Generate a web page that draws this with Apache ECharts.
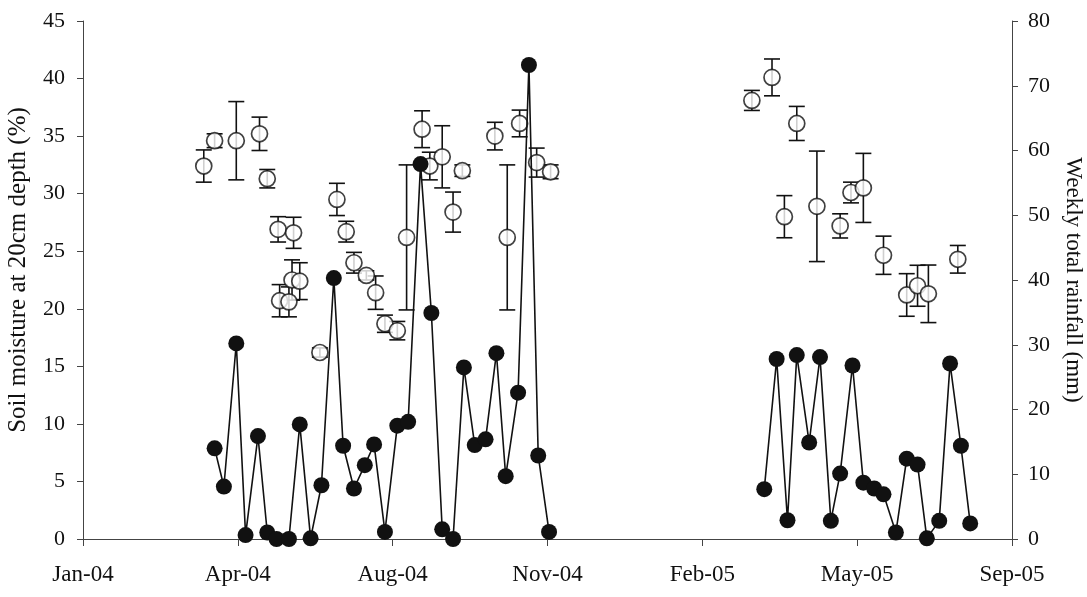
<!DOCTYPE html>
<html>
<head>
<meta charset="utf-8">
<script src="https://cdn.jsdelivr.net/npm/echarts@6/dist/echarts.min.js"></script>
<style>
html,body{margin:0;padding:0;background:#fff;}
#chart{width:1087px;height:597px;}
</style>
</head>
<body>
<div id="chart"></div>
<script>
// ---- data ----
const soilDates = [
  '2004-04-01','2004-04-08','2004-04-22','2004-05-07','2004-05-12','2004-05-19','2004-05-20',
  '2004-05-26','2004-05-28','2004-05-29','2004-06-02','2004-06-15','2004-06-26','2004-07-02',
  '2004-07-07','2004-07-15','2004-07-21','2004-07-27','2004-08-04','2004-08-10','2004-08-20',
  '2004-08-25','2004-09-02','2004-09-09','2004-09-15','2004-10-06','2004-10-14','2004-10-22',
  '2004-11-02','2004-11-11',
  '2005-03-21','2005-04-03','2005-04-11','2005-04-19','2005-05-02','2005-05-17','2005-05-24',
  '2005-06-01','2005-06-14','2005-06-29','2005-07-06','2005-07-13','2005-08-01'
];
const soilMoisture = [
  32.4, 34.6, 34.6, 35.2, 31.3, 26.9, 20.7,
  20.6, 22.5, 26.6, 22.4, 16.2, 29.5, 26.7,
  24.0, 22.9, 21.4, 18.7, 18.1, 26.2, 35.6,
  32.4, 33.2, 28.4, 32.0, 35.0, 26.2, 36.1,
  32.7, 31.9,
  38.1, 40.1, 28.0, 36.1, 28.9, 27.2, 30.1,
  30.5, 24.65, 21.2, 22.0, 21.3, 24.3
];
const soilError = [
  1.4, 0.6, 3.4, 1.45, 0.8, 1.1, 1.4,
  1.3, 1.75, 1.35, 1.6, 0.4, 1.4, 0.9,
  0.9, 0.4, 1.45, 0.75, 0.8, 6.3, 1.6,
  1.2, 2.7, 1.74, 0.5, 1.2, 6.3, 1.16,
  1.26, 0.6,
  0.87, 1.6, 1.83, 1.48, 4.8, 1.05, 0.9,
  3.0, 1.66, 1.85, 1.78, 2.5, 1.2
];
const rainDates = [
  '2004-04-08','2004-04-14','2004-04-22','2004-04-28','2004-05-06','2004-05-12','2004-05-18',
  '2004-05-26','2004-06-02','2004-06-09','2004-06-16','2004-06-24','2004-06-30','2004-07-07',
  '2004-07-14','2004-07-20','2004-07-27','2004-08-04','2004-08-11','2004-08-19','2004-08-26',
  '2004-09-02','2004-09-09','2004-09-16','2004-09-23','2004-09-30','2004-10-07','2004-10-13',
  '2004-10-21','2004-10-28','2004-11-03','2004-11-10',
  '2005-03-29','2005-04-06','2005-04-13','2005-04-19','2005-04-27','2005-05-04','2005-05-11',
  '2005-05-17','2005-05-25','2005-06-01','2005-06-08','2005-06-14','2005-06-22','2005-06-29',
  '2005-07-06','2005-07-12','2005-07-20','2005-07-27','2005-08-03','2005-08-09'
];
const rainfall = [
  14.0, 8.1, 30.2, 0.6, 15.9, 1.0, 0,
  0, 17.7, 0.1, 8.3, 40.3, 14.4, 7.8,
  11.4, 14.6, 1.1, 17.5, 18.1, 57.9, 34.9,
  1.5, 0, 26.5, 14.5, 15.4, 28.7, 9.7,
  22.6, 73.2, 12.9, 1.1,
  7.7, 27.8, 2.9, 28.4, 14.9, 28.1, 2.8,
  10.1, 26.8, 8.7, 7.8, 6.9, 1.0, 12.4,
  11.5, 0.1, 2.8, 27.1, 14.4, 2.4
];
const xTickLabels = ['Jan-04','Apr-04','Aug-04','Nov-04','Feb-05','May-05','Sep-05'];
const xStart = 38000, xStep = 100; // Excel date serials of the axis
const leftTitle = 'Soil moisture at 20cm depth (%)';
const rightTitle = 'Weekly total rainfall (mm)';

// ---- helpers ----
function serial(s) {
  const p = s.split('-').map(Number);
  return Date.UTC(p[0], p[1] - 1, p[2]) / 86400000 + 25569;
}
const soilPts = soilDates.map((d, i) => [serial(d), soilMoisture[i]]);
const errPts = soilDates.map((d, i) => [serial(d), soilMoisture[i] - soilError[i], soilMoisture[i] + soilError[i]]);
const rainPts = [];
rainDates.forEach((d, i) => {
  const x = serial(d);
  if (i > 0 && x - serial(rainDates[i - 1]) > 60) rainPts.push([x - 1, '-']);
  rainPts.push([x, rainfall[i]]);
});

const FONT = 'Liberation Serif';
const INK = '#111';
const AXIS = '#444';

const chart = echarts.init(document.getElementById('chart'), null, {renderer: 'canvas'});
chart.setOption({
  animation: false,
  backgroundColor: '#fff',
  grid: {left: 83, right: 75, top: 21, bottom: 58, containLabel: false, outerBoundsMode: 'none'},
  xAxis: {
    type: 'value', min: xStart, max: xStart + xStep * (xTickLabels.length - 1), interval: xStep,
    axisLine: {show: true, onZero: false, lineStyle: {color: AXIS, width: 1}},
    axisTick: {show: true, inside: false, length: 7, lineStyle: {color: AXIS}},
    splitLine: {show: false},
    axisLabel: {
      margin: 24, color: INK, fontFamily: FONT, fontSize: 23,
      formatter: v => xTickLabels[Math.round((v - xStart) / xStep)] || ''
    }
  },
  yAxis: [
    {
      type: 'value', min: 0, max: 45, interval: 5, position: 'left',
      name: leftTitle, nameLocation: 'middle', nameGap: 52, nameRotate: 90,
      nameTextStyle: {color: INK, fontFamily: FONT, fontSize: 25, padding: [0, 0, 0, 20]},
      axisLine: {show: true, lineStyle: {color: AXIS, width: 1}},
      axisTick: {show: true, inside: false, length: 6, lineStyle: {color: AXIS}},
      splitLine: {show: false},
      axisLabel: {margin: 18, color: INK, fontFamily: FONT, fontSize: 22}
    },
    {
      type: 'value', min: 0, max: 80, interval: 10, position: 'right',
      name: rightTitle, nameLocation: 'middle', nameGap: 50, nameRotate: -90,
      nameTextStyle: {color: INK, fontFamily: FONT, fontSize: 23},
      axisLine: {show: true, lineStyle: {color: AXIS, width: 1}},
      axisTick: {show: true, inside: false, length: 6, lineStyle: {color: AXIS}},
      splitLine: {show: false},
      axisLabel: {margin: 16, color: INK, fontFamily: FONT, fontSize: 22}
    }
  ],
  series: [
    {
      type: 'custom', name: 'error', yAxisIndex: 0, z: 2, silent: true,
      data: errPts,
      renderItem: function (params, api) {
        const x = api.value(0);
        const lo = api.coord([x, api.value(1)]);
        const hi = api.coord([x, api.value(2)]);
        const hw = 8;
        const st = {stroke: INK, lineWidth: 1.6, fill: null};
        return {
          type: 'group',
          children: [
            {type: 'line', shape: {x1: lo[0], y1: lo[1], x2: hi[0], y2: hi[1]}, style: st},
            {type: 'line', shape: {x1: lo[0] - hw, y1: lo[1], x2: lo[0] + hw, y2: lo[1]}, style: st},
            {type: 'line', shape: {x1: hi[0] - hw, y1: hi[1], x2: hi[0] + hw, y2: hi[1]}, style: st}
          ]
        };
      }
    },
    {
      type: 'scatter', name: 'Soil moisture', yAxisIndex: 0, z: 3, silent: true,
      data: soilPts, symbol: 'circle', symbolSize: 16,
      itemStyle: {color: '#fff', borderColor: INK, borderWidth: 1.7}
    },
    {
      type: 'line', name: 'Rainfall', yAxisIndex: 1, z: 4, silent: true,
      data: rainPts, connectNulls: false, showAllSymbol: true,
      symbol: 'circle', symbolSize: 16,
      itemStyle: {color: INK, borderColor: INK, borderWidth: 0},
      lineStyle: {color: INK, width: 1.6}
    }
  ]
});
</script>
</body>
</html>
